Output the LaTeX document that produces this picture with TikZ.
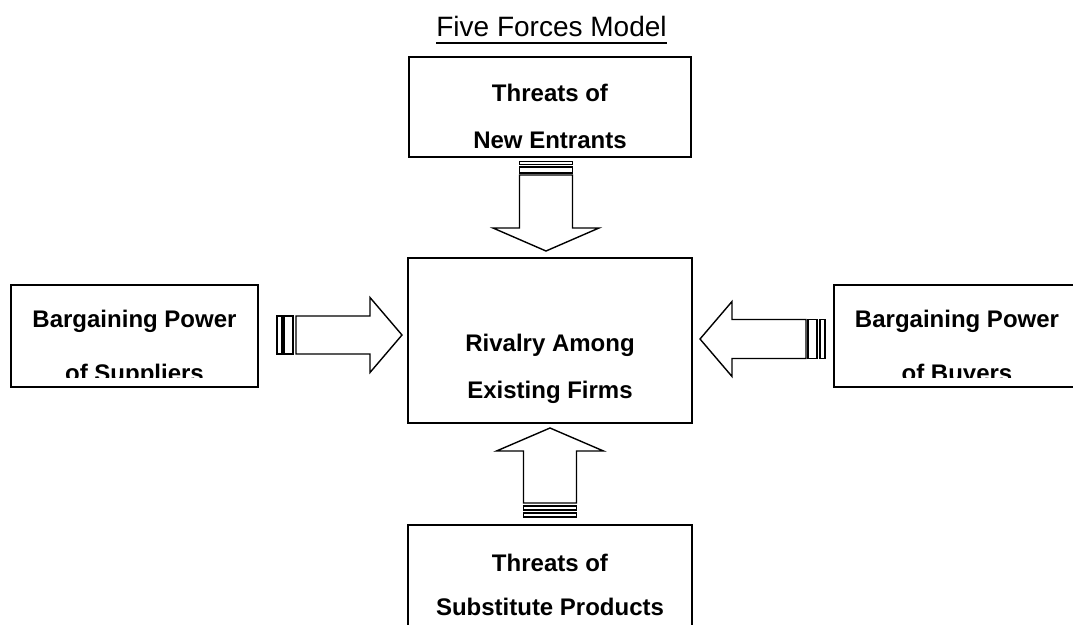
\documentclass[tikz,border=0pt]{standalone}
\usepackage{fontspec}
\setmainfont{Liberation Sans}
\begin{document}
\begin{tikzpicture}[x=1pt,y=-1pt,
  forcebox/.style={draw, line width=1.8pt, inner sep=0pt},
  label/.style={anchor=base, font=\fontsize{24}{24}\selectfont\bfseries, inner sep=0pt},
  blockarrow/.style={draw, line width=1.4pt, fill=white, line join=miter},
  stripe/.style={draw, line width=1.4pt, fill=white}]
\clip (0,0) rectangle (1073,624);
\fill[white] (0,0) rectangle (1073,624);

% title
\node[anchor=base, font=\fontsize{28}{28}\selectfont, inner sep=0pt] (title) at (551.5,36) {Five Forces Model};
\draw[line width=2pt] ([yshift=-7pt]title.base west) -- ([yshift=-7pt]title.base east);

% the five boxes
\node[forcebox, minimum width=282pt, minimum height=100pt] (entrants) at (550,107) {};
\node[forcebox, minimum width=284pt, minimum height=165pt] (rivalry) at (550,340.5) {};
\node[forcebox, minimum width=284pt, minimum height=110pt] (substitutes) at (550,580) {};
\node[forcebox, minimum width=247pt, minimum height=102pt] (suppliers) at (134.5,336) {};
\node[forcebox, minimum width=246pt, minimum height=102pt] (buyers) at (957,336) {};

% box texts
\node[label] (t1a) at (550,101) {Threats of};
\node[label] (t1b) at (550,148) {New Entrants};
\node[label] (t2a) at (550,351) {Rivalry Among};
\node[label] (t2b) at (550,398) {Existing Firms};
\node[label] (t3a) at (550,571) {Threats of};
\node[label] (t3b) at (550,615) {Substitute Products};
\begin{scope}
  \clip (suppliers.north west) rectangle ([yshift=10pt]suppliers.south east);
  \node[label] (t4a) at (134.5,327) {Bargaining Power};
  \node[label] (t4b) at (134.5,381) {of Suppliers};
\end{scope}
\begin{scope}
  \clip (buyers.north west) rectangle ([yshift=10pt]buyers.south east);
  \node[label] (t5a) at (957,327) {Bargaining Power};
  \node[label] (t5b) at (957,381) {of Buyers};
\end{scope}

% arrow from suppliers
\begin{scope}[shift={(402,335)}]
  \draw[blockarrow] (0,0) -- (-32,-37.5) -- (-32,-19) -- (-106,-19) -- (-106,19) -- (-32,19) -- (-32,37.5) -- cycle;
  \draw[stripe] (-125,-19) rectangle (-120,19);
  \draw[stripe] (-118,-19) rectangle (-109,19);
\end{scope}

% arrow from buyers
\begin{scope}[shift={(700,339)}]
  \draw[blockarrow] (0,0) -- (32,-37.5) -- (32,-19.5) -- (106,-19.5) -- (106,19.5) -- (32,19.5) -- (32,37.5) -- cycle;
  \draw[stripe] (108,-19.5) rectangle (117,19.5);
  \draw[stripe] (120,-19.5) rectangle (125,19.5);
\end{scope}

% arrow from new entrants
\begin{scope}[shift={(546,251)}]
  \draw[blockarrow] (0,0) -- (-53,-23) -- (-26.5,-23) -- (-26.5,-76) -- (26.5,-76) -- (26.5,-23) -- (53,-23) -- cycle;
  \draw[stripe] (-26.5,-78) rectangle (26.5,-84);
  \draw[stripe] (-26.5,-86.5) rectangle (26.5,-89.5);
\end{scope}

% arrow from substitutes
\begin{scope}[shift={(550,428)}]
  \draw[blockarrow] (0,0) -- (-53.5,23) -- (-26.5,23) -- (-26.5,75) -- (26.5,75) -- (26.5,23) -- (53.5,23) -- cycle;
  \draw[stripe] (-26.5,78) rectangle (26.5,82);
  \draw[stripe] (-26.5,85) rectangle (26.5,89);
\end{scope}
\end{tikzpicture}
\end{document}
